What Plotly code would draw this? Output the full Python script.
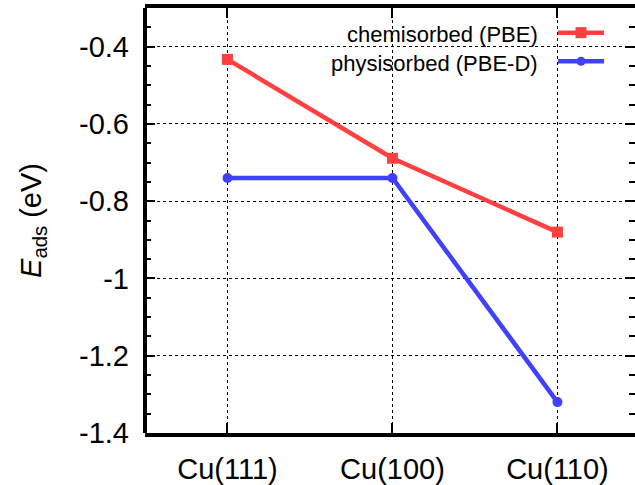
import plotly.graph_objects as go

categories = ["Cu(111)", "Cu(100)", "Cu(110)"]
chemisorbed_pbe = [-0.433, -0.689, -0.880]
physisorbed_pbed = [-0.740, -0.740, -1.320]
series_names = ["chemisorbed (PBE)", "physisorbed (PBE-D)"]
ytick_vals = [-1.4, -1.2, -1.0, -0.8, -0.6, -0.4]
ytick_text = ["-1.4", "-1.2", "-1", "-0.8", "-0.6", "-0.4"]

RED = "rgb(255,64,64)"
BLUE = "rgb(64,64,255)"
FONT = "Liberation Sans, Arial, sans-serif"

W, H = 635, 485
L, R, T, B = 145, 0, 8, 46

fig = go.Figure()
fig.add_trace(go.Scatter(
    x=categories, y=chemisorbed_pbe, mode="lines+markers", name=series_names[0],
    line=dict(color=RED, width=4.5),
    marker=dict(symbol="square", size=11, color=RED)))
fig.add_trace(go.Scatter(
    x=categories, y=physisorbed_pbed, mode="lines+markers", name=series_names[1],
    line=dict(color=BLUE, width=4.5),
    marker=dict(symbol="circle", size=10, color=BLUE)))

axis_common = dict(
    ticks="inside", tickwidth=2, tickcolor="black",
    showgrid=True, gridcolor="black", gridwidth=1, griddash="dot",
    zeroline=False,
    tickfont=dict(family=FONT, size=29, color="black"),
)

fig.update_xaxes(
    type="category", categoryorder="array", categoryarray=categories,
    range=[-0.5, 2.47], ticklen=10,
    showline=True, linecolor="black", linewidth=4, mirror="allticks",
    ticklabelstandoff=7,
    **axis_common)
fig.update_yaxes(
    range=[-1.4, -0.3], tickvals=ytick_vals, ticktext=ytick_text, ticklen=10,
    showline=False, mirror="allticks",
    minor=dict(ticks="inside", ticklen=6, tickwidth=2, tickcolor="black",
               dtick=0.05, tick0=-1.4, showgrid=False),
    ticklabelstandoff=15,
    title=dict(text="<i>E</i><sub>ads</sub> (eV)",
               font=dict(family=FONT, size=29, color="black"), standoff=28),
    **axis_common)

shapes = [
    # left border line
    dict(type="line", xref="paper", yref="paper", x0=0, x1=0, y0=0, y1=1,
         line=dict(color="black", width=4)),
]

pw = W - L - R
ph = H - T - B
def px_x(x):
    return (x - L) / pw
def px_y(y):
    return (H - B - y) / ph

legend_rows = [(series_names[0], RED, "square", 33), (series_names[1], BLUE, "circle", 62)]
annotations = []
for name, col, sym, yy in legend_rows:
    annotations.append(dict(
        text=name, xref="paper", yref="paper", x=px_x(540), y=px_y(yy + 2),
        xanchor="right", yanchor="middle", showarrow=False,
        font=dict(family=FONT, size=22, color="black")))
    shapes.append(dict(type="line", xref="paper", yref="paper",
                       x0=px_x(558), x1=px_x(604), y0=px_y(yy), y1=px_y(yy),
                       line=dict(color=col, width=4.5)))
    half = 5.5 if sym == "square" else 4.5
    shapes.append(dict(type="rect" if sym == "square" else "circle",
                       xref="paper", yref="paper",
                       xsizemode="pixel", ysizemode="pixel",
                       xanchor=px_x(581), yanchor=px_y(yy),
                       x0=-half, x1=half, y0=-half, y1=half,
                       fillcolor=col, line=dict(width=0)))

fig.update_layout(
    width=W, height=H,
    margin=dict(l=L, r=R, t=T, b=B),
    paper_bgcolor="white", plot_bgcolor="white",
    showlegend=False,
    shapes=shapes, annotations=annotations,
    font=dict(family=FONT, color="black"),
)

fig.write_html("out.html")
